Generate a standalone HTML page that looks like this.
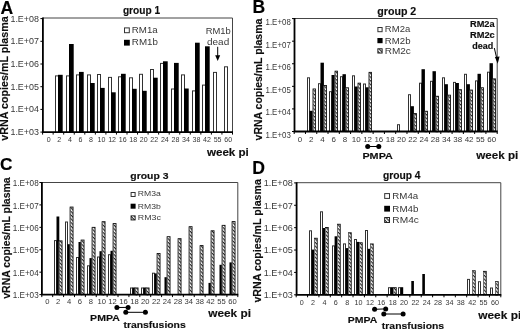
<!DOCTYPE html>
<html><head><meta charset="utf-8"><title>vRNA charts</title>
<style>
html,body{margin:0;padding:0;background:#fff;}
body{width:520px;height:331px;overflow:hidden;}
svg{display:block;font-family:"Liberation Sans", sans-serif;will-change:transform;}
</style></head><body>
<svg width="520" height="331" viewBox="0 0 520 331">
<rect width="520" height="331" fill="#fff"/>
<g filter="url(#soft)">
<rect width="520" height="331" fill="#fff"/>
<defs><filter id="soft" x="0" y="0" width="1" height="1"><feGaussianBlur stdDeviation="0.35"/></filter><pattern id="hatch" patternUnits="userSpaceOnUse" width="2.6" height="2.6" patternTransform="rotate(-45)"><rect width="2.6" height="2.6" fill="#262626"/><rect width="1.45" height="2.6" fill="#fff"/></pattern></defs>
<rect x="55.00" y="75.40" width="4.00" height="56.70" fill="#333"/>
<rect x="56.00" y="76.40" width="2.00" height="56.70" fill="#fff"/>
<rect x="66.00" y="75.40" width="4.00" height="56.70" fill="#333"/>
<rect x="67.00" y="76.40" width="2.00" height="56.70" fill="#fff"/>
<rect x="76.00" y="74.40" width="4.00" height="57.70" fill="#333"/>
<rect x="77.00" y="75.40" width="2.00" height="57.70" fill="#fff"/>
<rect x="87.00" y="74.40" width="4.00" height="57.70" fill="#333"/>
<rect x="88.00" y="75.40" width="2.00" height="57.70" fill="#fff"/>
<rect x="97.00" y="74.00" width="4.00" height="58.10" fill="#333"/>
<rect x="98.00" y="75.00" width="2.00" height="58.10" fill="#fff"/>
<rect x="108.00" y="76.90" width="4.00" height="55.20" fill="#333"/>
<rect x="109.00" y="77.90" width="2.00" height="55.20" fill="#fff"/>
<rect x="118.00" y="76.30" width="4.00" height="55.80" fill="#333"/>
<rect x="119.00" y="77.30" width="2.00" height="55.80" fill="#fff"/>
<rect x="129.00" y="77.30" width="4.00" height="54.80" fill="#333"/>
<rect x="130.00" y="78.30" width="2.00" height="54.80" fill="#fff"/>
<rect x="139.00" y="73.80" width="4.00" height="58.30" fill="#333"/>
<rect x="140.00" y="74.80" width="2.00" height="58.30" fill="#fff"/>
<rect x="150.00" y="69.00" width="4.00" height="63.10" fill="#333"/>
<rect x="151.00" y="70.00" width="2.00" height="63.10" fill="#fff"/>
<rect x="160.00" y="62.90" width="4.00" height="69.20" fill="#333"/>
<rect x="161.00" y="63.90" width="2.00" height="69.20" fill="#fff"/>
<rect x="171.00" y="88.50" width="4.00" height="43.60" fill="#333"/>
<rect x="172.00" y="89.50" width="2.00" height="43.60" fill="#fff"/>
<rect x="181.00" y="74.40" width="4.00" height="57.70" fill="#333"/>
<rect x="182.00" y="75.40" width="2.00" height="57.70" fill="#fff"/>
<rect x="192.00" y="90.40" width="4.00" height="41.70" fill="#333"/>
<rect x="193.00" y="91.40" width="2.00" height="41.70" fill="#fff"/>
<rect x="202.00" y="84.60" width="4.00" height="47.50" fill="#333"/>
<rect x="203.00" y="85.60" width="2.00" height="47.50" fill="#fff"/>
<rect x="213.00" y="71.90" width="4.00" height="60.20" fill="#333"/>
<rect x="214.00" y="72.90" width="2.00" height="60.20" fill="#fff"/>
<rect x="224.00" y="66.30" width="4.00" height="65.80" fill="#333"/>
<rect x="225.00" y="67.30" width="2.00" height="65.80" fill="#fff"/>
<rect x="58.00" y="74.80" width="4.70" height="57.30" fill="#000"/>
<rect x="69.00" y="44.00" width="4.70" height="88.10" fill="#000"/>
<rect x="79.00" y="71.90" width="4.70" height="60.20" fill="#000"/>
<rect x="90.00" y="83.00" width="4.70" height="49.10" fill="#000"/>
<rect x="100.00" y="87.90" width="4.70" height="44.20" fill="#000"/>
<rect x="111.00" y="92.30" width="4.70" height="39.80" fill="#000"/>
<rect x="121.00" y="73.80" width="4.70" height="58.30" fill="#000"/>
<rect x="132.00" y="88.80" width="4.70" height="43.30" fill="#000"/>
<rect x="142.00" y="90.80" width="4.70" height="41.30" fill="#000"/>
<rect x="153.00" y="77.70" width="4.70" height="54.40" fill="#000"/>
<rect x="163.00" y="61.30" width="4.70" height="70.80" fill="#000"/>
<rect x="174.00" y="62.90" width="4.70" height="69.20" fill="#000"/>
<rect x="184.00" y="88.50" width="4.70" height="43.60" fill="#000"/>
<rect x="195.00" y="42.70" width="4.70" height="89.40" fill="#000"/>
<rect x="205.00" y="46.30" width="4.70" height="85.80" fill="#000"/>
<path d="M42.90 18.00 H232.50 V132.10" fill="none" stroke="#444" stroke-width="1"/>
<path d="M42.90 17.50 V132.10 H233.00" fill="none" stroke="#000" stroke-width="1.8"/>
<line x1="40.40" y1="18.60" x2="42.90" y2="18.60" stroke="#000" stroke-width="1"/>
<line x1="40.40" y1="41.30" x2="42.90" y2="41.30" stroke="#000" stroke-width="1"/>
<line x1="40.40" y1="64.00" x2="42.90" y2="64.00" stroke="#000" stroke-width="1"/>
<line x1="40.40" y1="86.70" x2="42.90" y2="86.70" stroke="#000" stroke-width="1"/>
<line x1="40.40" y1="109.40" x2="42.90" y2="109.40" stroke="#000" stroke-width="1"/>
<line x1="40.40" y1="132.10" x2="42.90" y2="132.10" stroke="#000" stroke-width="1"/>
<line x1="42.60" y1="132.10" x2="42.60" y2="134.60" stroke="#000" stroke-width="1"/>
<line x1="53.15" y1="132.10" x2="53.15" y2="134.60" stroke="#000" stroke-width="1"/>
<line x1="63.70" y1="132.10" x2="63.70" y2="134.60" stroke="#000" stroke-width="1"/>
<line x1="74.25" y1="132.10" x2="74.25" y2="134.60" stroke="#000" stroke-width="1"/>
<line x1="84.80" y1="132.10" x2="84.80" y2="134.60" stroke="#000" stroke-width="1"/>
<line x1="95.35" y1="132.10" x2="95.35" y2="134.60" stroke="#000" stroke-width="1"/>
<line x1="105.90" y1="132.10" x2="105.90" y2="134.60" stroke="#000" stroke-width="1"/>
<line x1="116.45" y1="132.10" x2="116.45" y2="134.60" stroke="#000" stroke-width="1"/>
<line x1="127.00" y1="132.10" x2="127.00" y2="134.60" stroke="#000" stroke-width="1"/>
<line x1="137.55" y1="132.10" x2="137.55" y2="134.60" stroke="#000" stroke-width="1"/>
<line x1="148.10" y1="132.10" x2="148.10" y2="134.60" stroke="#000" stroke-width="1"/>
<line x1="158.65" y1="132.10" x2="158.65" y2="134.60" stroke="#000" stroke-width="1"/>
<line x1="169.20" y1="132.10" x2="169.20" y2="134.60" stroke="#000" stroke-width="1"/>
<line x1="179.75" y1="132.10" x2="179.75" y2="134.60" stroke="#000" stroke-width="1"/>
<line x1="190.30" y1="132.10" x2="190.30" y2="134.60" stroke="#000" stroke-width="1"/>
<line x1="200.85" y1="132.10" x2="200.85" y2="134.60" stroke="#000" stroke-width="1"/>
<line x1="211.40" y1="132.10" x2="211.40" y2="134.60" stroke="#000" stroke-width="1"/>
<line x1="221.95" y1="132.10" x2="221.95" y2="134.60" stroke="#000" stroke-width="1"/>
<line x1="232.50" y1="132.10" x2="232.50" y2="134.60" stroke="#000" stroke-width="1"/>
<text id="A_y0" x="38.92" y="21.68" font-size="8.30" font-weight="normal" text-anchor="end" textLength="28.47" lengthAdjust="spacingAndGlyphs" fill="#383838" stroke="#383838" stroke-width="0.0">1.E+08</text>
<text id="A_y1" x="38.92" y="44.38" font-size="8.30" font-weight="normal" text-anchor="end" textLength="28.47" lengthAdjust="spacingAndGlyphs" fill="#383838" stroke="#383838" stroke-width="0.0">1.E+07</text>
<text id="A_y2" x="38.92" y="67.08" font-size="8.30" font-weight="normal" text-anchor="end" textLength="28.47" lengthAdjust="spacingAndGlyphs" fill="#383838" stroke="#383838" stroke-width="0.0">1.E+06</text>
<text id="A_y3" x="38.92" y="89.78" font-size="8.30" font-weight="normal" text-anchor="end" textLength="28.47" lengthAdjust="spacingAndGlyphs" fill="#383838" stroke="#383838" stroke-width="0.0">1.E+05</text>
<text id="A_y4" x="38.92" y="112.48" font-size="8.30" font-weight="normal" text-anchor="end" textLength="28.47" lengthAdjust="spacingAndGlyphs" fill="#383838" stroke="#383838" stroke-width="0.0">1.E+04</text>
<text id="A_y5" x="38.92" y="135.18" font-size="8.30" font-weight="normal" text-anchor="end" textLength="28.47" lengthAdjust="spacingAndGlyphs" fill="#383838" stroke="#383838" stroke-width="0.0">1.E+03</text>
<text id="A_x0" x="48.79" y="141.72" font-size="7.30" font-weight="normal" text-anchor="middle" textLength="3.94" lengthAdjust="spacingAndGlyphs" fill="#383838" stroke="#383838" stroke-width="0.0">0</text>
<text id="A_x1" x="59.34" y="141.72" font-size="7.30" font-weight="normal" text-anchor="middle" textLength="3.94" lengthAdjust="spacingAndGlyphs" fill="#383838" stroke="#383838" stroke-width="0.0">2</text>
<text id="A_x2" x="69.89" y="141.72" font-size="7.30" font-weight="normal" text-anchor="middle" textLength="3.94" lengthAdjust="spacingAndGlyphs" fill="#383838" stroke="#383838" stroke-width="0.0">4</text>
<text id="A_x3" x="80.44" y="141.72" font-size="7.30" font-weight="normal" text-anchor="middle" textLength="3.94" lengthAdjust="spacingAndGlyphs" fill="#383838" stroke="#383838" stroke-width="0.0">6</text>
<text id="A_x4" x="90.99" y="141.72" font-size="7.30" font-weight="normal" text-anchor="middle" textLength="3.94" lengthAdjust="spacingAndGlyphs" fill="#383838" stroke="#383838" stroke-width="0.0">8</text>
<text id="A_x5" x="101.54" y="141.72" font-size="7.30" font-weight="normal" text-anchor="middle" textLength="7.87" lengthAdjust="spacingAndGlyphs" fill="#383838" stroke="#383838" stroke-width="0.0">10</text>
<text id="A_x6" x="112.09" y="141.72" font-size="7.30" font-weight="normal" text-anchor="middle" textLength="7.87" lengthAdjust="spacingAndGlyphs" fill="#383838" stroke="#383838" stroke-width="0.0">12</text>
<text id="A_x7" x="122.64" y="141.72" font-size="7.30" font-weight="normal" text-anchor="middle" textLength="7.87" lengthAdjust="spacingAndGlyphs" fill="#383838" stroke="#383838" stroke-width="0.0">16</text>
<text id="A_x8" x="133.19" y="141.72" font-size="7.30" font-weight="normal" text-anchor="middle" textLength="7.87" lengthAdjust="spacingAndGlyphs" fill="#383838" stroke="#383838" stroke-width="0.0">18</text>
<text id="A_x9" x="143.74" y="141.72" font-size="7.30" font-weight="normal" text-anchor="middle" textLength="7.87" lengthAdjust="spacingAndGlyphs" fill="#383838" stroke="#383838" stroke-width="0.0">20</text>
<text id="A_x10" x="154.29" y="141.72" font-size="7.30" font-weight="normal" text-anchor="middle" textLength="7.87" lengthAdjust="spacingAndGlyphs" fill="#383838" stroke="#383838" stroke-width="0.0">22</text>
<text id="A_x11" x="164.84" y="141.72" font-size="7.30" font-weight="normal" text-anchor="middle" textLength="7.87" lengthAdjust="spacingAndGlyphs" fill="#383838" stroke="#383838" stroke-width="0.0">24</text>
<text id="A_x12" x="175.39" y="141.72" font-size="7.30" font-weight="normal" text-anchor="middle" textLength="7.87" lengthAdjust="spacingAndGlyphs" fill="#383838" stroke="#383838" stroke-width="0.0">28</text>
<text id="A_x13" x="185.94" y="141.72" font-size="7.30" font-weight="normal" text-anchor="middle" textLength="7.87" lengthAdjust="spacingAndGlyphs" fill="#383838" stroke="#383838" stroke-width="0.0">34</text>
<text id="A_x14" x="196.49" y="141.72" font-size="7.30" font-weight="normal" text-anchor="middle" textLength="7.87" lengthAdjust="spacingAndGlyphs" fill="#383838" stroke="#383838" stroke-width="0.0">38</text>
<text id="A_x15" x="207.04" y="141.72" font-size="7.30" font-weight="normal" text-anchor="middle" textLength="7.87" lengthAdjust="spacingAndGlyphs" fill="#383838" stroke="#383838" stroke-width="0.0">42</text>
<text id="A_x16" x="217.59" y="141.72" font-size="7.30" font-weight="normal" text-anchor="middle" textLength="7.87" lengthAdjust="spacingAndGlyphs" fill="#383838" stroke="#383838" stroke-width="0.0">55</text>
<text id="A_x17" x="228.14" y="141.72" font-size="7.30" font-weight="normal" text-anchor="middle" textLength="7.87" lengthAdjust="spacingAndGlyphs" fill="#383838" stroke="#383838" stroke-width="0.0">60</text>
<rect x="307.00" y="77.30" width="3.00" height="54.20" fill="#333"/>
<rect x="308.00" y="78.30" width="1.00" height="54.20" fill="#fff"/>
<rect x="318.00" y="83.20" width="3.00" height="48.30" fill="#333"/>
<rect x="319.00" y="84.20" width="1.00" height="48.30" fill="#fff"/>
<rect x="329.00" y="91.20" width="3.00" height="40.30" fill="#333"/>
<rect x="330.00" y="92.20" width="1.00" height="40.30" fill="#fff"/>
<rect x="340.00" y="76.20" width="3.00" height="55.30" fill="#333"/>
<rect x="341.00" y="77.20" width="1.00" height="55.30" fill="#fff"/>
<rect x="352.00" y="75.30" width="3.00" height="56.20" fill="#333"/>
<rect x="353.00" y="76.30" width="1.00" height="56.20" fill="#fff"/>
<rect x="363.00" y="83.50" width="3.00" height="48.00" fill="#333"/>
<rect x="364.00" y="84.50" width="1.00" height="48.00" fill="#fff"/>
<rect x="397.00" y="124.20" width="3.00" height="7.30" fill="#333"/>
<rect x="398.00" y="125.20" width="1.00" height="7.30" fill="#fff"/>
<rect x="408.00" y="94.20" width="3.00" height="37.30" fill="#333"/>
<rect x="409.00" y="95.20" width="1.00" height="37.30" fill="#fff"/>
<rect x="419.00" y="82.70" width="3.00" height="48.80" fill="#333"/>
<rect x="420.00" y="83.70" width="1.00" height="48.80" fill="#fff"/>
<rect x="430.00" y="80.80" width="3.00" height="50.70" fill="#333"/>
<rect x="431.00" y="81.80" width="1.00" height="50.70" fill="#fff"/>
<rect x="442.00" y="77.30" width="3.00" height="54.20" fill="#333"/>
<rect x="443.00" y="78.30" width="1.00" height="54.20" fill="#fff"/>
<rect x="453.00" y="81.90" width="3.00" height="49.60" fill="#333"/>
<rect x="454.00" y="82.90" width="1.00" height="49.60" fill="#fff"/>
<rect x="464.00" y="73.80" width="3.00" height="57.70" fill="#333"/>
<rect x="465.00" y="74.80" width="1.00" height="57.70" fill="#fff"/>
<rect x="475.00" y="80.40" width="3.00" height="51.10" fill="#333"/>
<rect x="476.00" y="81.40" width="1.00" height="51.10" fill="#fff"/>
<rect x="487.00" y="71.70" width="3.00" height="59.80" fill="#333"/>
<rect x="488.00" y="72.70" width="1.00" height="59.80" fill="#fff"/>
<rect x="309.50" y="110.80" width="3.40" height="20.70" fill="#000"/>
<rect x="320.50" y="62.70" width="3.40" height="68.80" fill="#000"/>
<rect x="331.50" y="75.00" width="3.40" height="56.50" fill="#000"/>
<rect x="342.50" y="74.20" width="3.40" height="57.30" fill="#000"/>
<rect x="354.50" y="86.50" width="3.40" height="45.00" fill="#000"/>
<rect x="365.50" y="87.30" width="3.40" height="44.20" fill="#000"/>
<rect x="410.50" y="106.20" width="3.40" height="25.30" fill="#000"/>
<rect x="421.50" y="69.20" width="3.40" height="62.30" fill="#000"/>
<rect x="432.50" y="71.20" width="3.40" height="60.30" fill="#000"/>
<rect x="444.50" y="84.20" width="3.40" height="47.30" fill="#000"/>
<rect x="455.50" y="83.00" width="3.40" height="48.50" fill="#000"/>
<rect x="466.50" y="84.20" width="3.40" height="47.30" fill="#000"/>
<rect x="477.50" y="73.80" width="3.40" height="57.70" fill="#000"/>
<rect x="489.50" y="63.20" width="3.40" height="68.30" fill="#000"/>
<rect x="312.60" y="88.50" width="3.30" height="43.00" fill="#111"/>
<rect x="313.40" y="89.40" width="1.60" height="43.00" fill="url(#hatch)"/>
<rect x="312.60" y="89.40" width="0.8" height="43.00" fill="#808080"/>
<rect x="323.60" y="85.00" width="3.30" height="46.50" fill="#111"/>
<rect x="324.40" y="85.90" width="1.60" height="46.50" fill="url(#hatch)"/>
<rect x="323.60" y="85.90" width="0.8" height="46.50" fill="#808080"/>
<rect x="334.60" y="70.70" width="3.30" height="60.80" fill="#111"/>
<rect x="335.40" y="71.60" width="1.60" height="60.80" fill="url(#hatch)"/>
<rect x="334.60" y="71.60" width="0.8" height="60.80" fill="#808080"/>
<rect x="345.60" y="87.30" width="3.30" height="44.20" fill="#111"/>
<rect x="346.40" y="88.20" width="1.60" height="44.20" fill="url(#hatch)"/>
<rect x="345.60" y="88.20" width="0.8" height="44.20" fill="#808080"/>
<rect x="357.60" y="82.70" width="3.30" height="48.80" fill="#111"/>
<rect x="358.40" y="83.60" width="1.60" height="48.80" fill="url(#hatch)"/>
<rect x="357.60" y="83.60" width="0.8" height="48.80" fill="#808080"/>
<rect x="368.60" y="71.90" width="3.30" height="59.60" fill="#111"/>
<rect x="369.40" y="72.80" width="1.60" height="59.60" fill="url(#hatch)"/>
<rect x="368.60" y="72.80" width="0.8" height="59.60" fill="#808080"/>
<rect x="413.60" y="113.10" width="3.30" height="18.40" fill="#111"/>
<rect x="414.40" y="114.00" width="1.60" height="18.40" fill="url(#hatch)"/>
<rect x="413.60" y="114.00" width="0.8" height="18.40" fill="#808080"/>
<rect x="424.60" y="110.80" width="3.30" height="20.70" fill="#111"/>
<rect x="425.40" y="111.70" width="1.60" height="20.70" fill="url(#hatch)"/>
<rect x="424.60" y="111.70" width="0.8" height="20.70" fill="#808080"/>
<rect x="435.60" y="95.80" width="3.30" height="35.70" fill="#111"/>
<rect x="436.40" y="96.70" width="1.60" height="35.70" fill="url(#hatch)"/>
<rect x="435.60" y="96.70" width="0.8" height="35.70" fill="#808080"/>
<rect x="447.60" y="94.70" width="3.30" height="36.80" fill="#111"/>
<rect x="448.40" y="95.60" width="1.60" height="36.80" fill="url(#hatch)"/>
<rect x="447.60" y="95.60" width="0.8" height="36.80" fill="#808080"/>
<rect x="458.60" y="89.20" width="3.30" height="42.30" fill="#111"/>
<rect x="459.40" y="90.10" width="1.60" height="42.30" fill="url(#hatch)"/>
<rect x="458.60" y="90.10" width="0.8" height="42.30" fill="#808080"/>
<rect x="469.60" y="89.60" width="3.30" height="41.90" fill="#111"/>
<rect x="470.40" y="90.50" width="1.60" height="41.90" fill="url(#hatch)"/>
<rect x="469.60" y="90.50" width="0.8" height="41.90" fill="#808080"/>
<rect x="480.60" y="87.30" width="3.30" height="44.20" fill="#111"/>
<rect x="481.40" y="88.20" width="1.60" height="44.20" fill="url(#hatch)"/>
<rect x="480.60" y="88.20" width="0.8" height="44.20" fill="#808080"/>
<rect x="492.60" y="78.40" width="3.30" height="53.10" fill="#111"/>
<rect x="493.40" y="79.30" width="1.60" height="53.10" fill="url(#hatch)"/>
<rect x="492.60" y="79.30" width="0.8" height="53.10" fill="#808080"/>
<path d="M294.50 18.50 H497.20 V131.50" fill="none" stroke="#444" stroke-width="1"/>
<path d="M294.50 18.00 V131.50 H497.70" fill="none" stroke="#000" stroke-width="1.8"/>
<line x1="292.00" y1="18.60" x2="294.50" y2="18.60" stroke="#000" stroke-width="1"/>
<line x1="292.00" y1="41.18" x2="294.50" y2="41.18" stroke="#000" stroke-width="1"/>
<line x1="292.00" y1="63.76" x2="294.50" y2="63.76" stroke="#000" stroke-width="1"/>
<line x1="292.00" y1="86.34" x2="294.50" y2="86.34" stroke="#000" stroke-width="1"/>
<line x1="292.00" y1="108.92" x2="294.50" y2="108.92" stroke="#000" stroke-width="1"/>
<line x1="292.00" y1="131.50" x2="294.50" y2="131.50" stroke="#000" stroke-width="1"/>
<line x1="294.20" y1="131.50" x2="294.20" y2="134.00" stroke="#000" stroke-width="1"/>
<line x1="305.48" y1="131.50" x2="305.48" y2="134.00" stroke="#000" stroke-width="1"/>
<line x1="316.76" y1="131.50" x2="316.76" y2="134.00" stroke="#000" stroke-width="1"/>
<line x1="328.03" y1="131.50" x2="328.03" y2="134.00" stroke="#000" stroke-width="1"/>
<line x1="339.31" y1="131.50" x2="339.31" y2="134.00" stroke="#000" stroke-width="1"/>
<line x1="350.59" y1="131.50" x2="350.59" y2="134.00" stroke="#000" stroke-width="1"/>
<line x1="361.87" y1="131.50" x2="361.87" y2="134.00" stroke="#000" stroke-width="1"/>
<line x1="373.14" y1="131.50" x2="373.14" y2="134.00" stroke="#000" stroke-width="1"/>
<line x1="384.42" y1="131.50" x2="384.42" y2="134.00" stroke="#000" stroke-width="1"/>
<line x1="395.70" y1="131.50" x2="395.70" y2="134.00" stroke="#000" stroke-width="1"/>
<line x1="406.98" y1="131.50" x2="406.98" y2="134.00" stroke="#000" stroke-width="1"/>
<line x1="418.26" y1="131.50" x2="418.26" y2="134.00" stroke="#000" stroke-width="1"/>
<line x1="429.53" y1="131.50" x2="429.53" y2="134.00" stroke="#000" stroke-width="1"/>
<line x1="440.81" y1="131.50" x2="440.81" y2="134.00" stroke="#000" stroke-width="1"/>
<line x1="452.09" y1="131.50" x2="452.09" y2="134.00" stroke="#000" stroke-width="1"/>
<line x1="463.37" y1="131.50" x2="463.37" y2="134.00" stroke="#000" stroke-width="1"/>
<line x1="474.64" y1="131.50" x2="474.64" y2="134.00" stroke="#000" stroke-width="1"/>
<line x1="485.92" y1="131.50" x2="485.92" y2="134.00" stroke="#000" stroke-width="1"/>
<line x1="497.20" y1="131.50" x2="497.20" y2="134.00" stroke="#000" stroke-width="1"/>
<text id="B_y0" x="290.80" y="25.03" font-size="8.30" font-weight="normal" text-anchor="end" textLength="25.27" lengthAdjust="spacingAndGlyphs" fill="#383838" stroke="#383838" stroke-width="0.0">1.E+08</text>
<text id="B_y1" x="290.80" y="47.61" font-size="8.30" font-weight="normal" text-anchor="end" textLength="25.27" lengthAdjust="spacingAndGlyphs" fill="#383838" stroke="#383838" stroke-width="0.0">1.E+07</text>
<text id="B_y2" x="290.80" y="70.19" font-size="8.30" font-weight="normal" text-anchor="end" textLength="25.27" lengthAdjust="spacingAndGlyphs" fill="#383838" stroke="#383838" stroke-width="0.0">1.E+06</text>
<text id="B_y3" x="290.80" y="92.77" font-size="8.30" font-weight="normal" text-anchor="end" textLength="25.27" lengthAdjust="spacingAndGlyphs" fill="#383838" stroke="#383838" stroke-width="0.0">1.E+05</text>
<text id="B_y4" x="290.80" y="115.35" font-size="8.30" font-weight="normal" text-anchor="end" textLength="25.27" lengthAdjust="spacingAndGlyphs" fill="#383838" stroke="#383838" stroke-width="0.0">1.E+04</text>
<text id="B_y5" x="290.80" y="137.93" font-size="8.30" font-weight="normal" text-anchor="end" textLength="25.27" lengthAdjust="spacingAndGlyphs" fill="#383838" stroke="#383838" stroke-width="0.0">1.E+03</text>
<text id="B_x0" x="299.93" y="142.44" font-size="7.30" font-weight="normal" text-anchor="middle" textLength="4.44" lengthAdjust="spacingAndGlyphs" fill="#383838" stroke="#383838" stroke-width="0.0">0</text>
<text id="B_x1" x="311.20" y="142.44" font-size="7.30" font-weight="normal" text-anchor="middle" textLength="4.44" lengthAdjust="spacingAndGlyphs" fill="#383838" stroke="#383838" stroke-width="0.0">2</text>
<text id="B_x2" x="322.48" y="142.44" font-size="7.30" font-weight="normal" text-anchor="middle" textLength="4.44" lengthAdjust="spacingAndGlyphs" fill="#383838" stroke="#383838" stroke-width="0.0">4</text>
<text id="B_x3" x="333.76" y="142.44" font-size="7.30" font-weight="normal" text-anchor="middle" textLength="4.44" lengthAdjust="spacingAndGlyphs" fill="#383838" stroke="#383838" stroke-width="0.0">6</text>
<text id="B_x4" x="345.04" y="142.44" font-size="7.30" font-weight="normal" text-anchor="middle" textLength="4.44" lengthAdjust="spacingAndGlyphs" fill="#383838" stroke="#383838" stroke-width="0.0">8</text>
<text id="B_x5" x="356.31" y="142.44" font-size="7.30" font-weight="normal" text-anchor="middle" textLength="8.89" lengthAdjust="spacingAndGlyphs" fill="#383838" stroke="#383838" stroke-width="0.0">10</text>
<text id="B_x6" x="367.59" y="142.44" font-size="7.30" font-weight="normal" text-anchor="middle" textLength="8.89" lengthAdjust="spacingAndGlyphs" fill="#383838" stroke="#383838" stroke-width="0.0">12</text>
<text id="B_x7" x="378.87" y="142.44" font-size="7.30" font-weight="normal" text-anchor="middle" textLength="8.89" lengthAdjust="spacingAndGlyphs" fill="#383838" stroke="#383838" stroke-width="0.0">16</text>
<text id="B_x8" x="390.15" y="142.44" font-size="7.30" font-weight="normal" text-anchor="middle" textLength="8.89" lengthAdjust="spacingAndGlyphs" fill="#383838" stroke="#383838" stroke-width="0.0">18</text>
<text id="B_x9" x="401.43" y="142.44" font-size="7.30" font-weight="normal" text-anchor="middle" textLength="8.89" lengthAdjust="spacingAndGlyphs" fill="#383838" stroke="#383838" stroke-width="0.0">20</text>
<text id="B_x10" x="412.70" y="142.44" font-size="7.30" font-weight="normal" text-anchor="middle" textLength="8.89" lengthAdjust="spacingAndGlyphs" fill="#383838" stroke="#383838" stroke-width="0.0">22</text>
<text id="B_x11" x="423.98" y="142.44" font-size="7.30" font-weight="normal" text-anchor="middle" textLength="8.89" lengthAdjust="spacingAndGlyphs" fill="#383838" stroke="#383838" stroke-width="0.0">24</text>
<text id="B_x12" x="435.26" y="142.44" font-size="7.30" font-weight="normal" text-anchor="middle" textLength="8.89" lengthAdjust="spacingAndGlyphs" fill="#383838" stroke="#383838" stroke-width="0.0">28</text>
<text id="B_x13" x="446.54" y="142.44" font-size="7.30" font-weight="normal" text-anchor="middle" textLength="8.89" lengthAdjust="spacingAndGlyphs" fill="#383838" stroke="#383838" stroke-width="0.0">34</text>
<text id="B_x14" x="457.81" y="142.44" font-size="7.30" font-weight="normal" text-anchor="middle" textLength="8.89" lengthAdjust="spacingAndGlyphs" fill="#383838" stroke="#383838" stroke-width="0.0">38</text>
<text id="B_x15" x="469.09" y="142.44" font-size="7.30" font-weight="normal" text-anchor="middle" textLength="8.89" lengthAdjust="spacingAndGlyphs" fill="#383838" stroke="#383838" stroke-width="0.0">42</text>
<text id="B_x16" x="480.37" y="142.44" font-size="7.30" font-weight="normal" text-anchor="middle" textLength="8.89" lengthAdjust="spacingAndGlyphs" fill="#383838" stroke="#383838" stroke-width="0.0">55</text>
<text id="B_x17" x="491.65" y="142.44" font-size="7.30" font-weight="normal" text-anchor="middle" textLength="8.89" lengthAdjust="spacingAndGlyphs" fill="#383838" stroke="#383838" stroke-width="0.0">60</text>
<rect x="54.00" y="240.10" width="3.00" height="54.50" fill="#333"/>
<rect x="55.00" y="241.10" width="1.00" height="54.50" fill="#fff"/>
<rect x="65.00" y="221.50" width="3.00" height="73.10" fill="#333"/>
<rect x="66.00" y="222.50" width="1.00" height="73.10" fill="#fff"/>
<rect x="76.00" y="257.00" width="3.00" height="37.60" fill="#333"/>
<rect x="77.00" y="258.00" width="1.00" height="37.60" fill="#fff"/>
<rect x="87.00" y="265.30" width="3.00" height="29.30" fill="#333"/>
<rect x="88.00" y="266.30" width="1.00" height="29.30" fill="#fff"/>
<rect x="97.00" y="256.50" width="3.00" height="38.10" fill="#333"/>
<rect x="98.00" y="257.50" width="1.00" height="38.10" fill="#fff"/>
<rect x="108.00" y="254.20" width="3.00" height="40.40" fill="#333"/>
<rect x="109.00" y="255.20" width="1.00" height="40.40" fill="#fff"/>
<rect x="130.00" y="287.50" width="3.00" height="7.10" fill="#333"/>
<rect x="131.00" y="288.50" width="1.00" height="7.10" fill="#fff"/>
<rect x="141.00" y="287.50" width="3.00" height="7.10" fill="#333"/>
<rect x="142.00" y="288.50" width="1.00" height="7.10" fill="#fff"/>
<rect x="152.00" y="272.70" width="3.00" height="21.90" fill="#333"/>
<rect x="153.00" y="273.70" width="1.00" height="21.90" fill="#fff"/>
<rect x="56.50" y="216.50" width="2.80" height="78.10" fill="#000"/>
<rect x="67.50" y="244.20" width="2.80" height="50.40" fill="#000"/>
<rect x="78.50" y="242.00" width="2.80" height="52.60" fill="#000"/>
<rect x="89.50" y="258.10" width="2.80" height="36.50" fill="#000"/>
<rect x="99.50" y="251.20" width="2.80" height="43.40" fill="#000"/>
<rect x="110.50" y="250.80" width="2.80" height="43.80" fill="#000"/>
<rect x="132.50" y="287.50" width="2.80" height="7.10" fill="#000"/>
<rect x="143.50" y="287.50" width="2.80" height="7.10" fill="#000"/>
<rect x="154.50" y="273.40" width="2.80" height="21.20" fill="#000"/>
<rect x="164.50" y="277.20" width="2.80" height="17.40" fill="#000"/>
<rect x="208.50" y="282.90" width="2.80" height="11.70" fill="#000"/>
<rect x="219.50" y="264.80" width="2.80" height="29.80" fill="#000"/>
<rect x="229.50" y="262.40" width="2.80" height="32.20" fill="#000"/>
<rect x="58.70" y="240.40" width="3.80" height="54.20" fill="#111"/>
<rect x="59.50" y="241.30" width="2.10" height="54.20" fill="url(#hatch)"/>
<rect x="58.70" y="241.30" width="0.8" height="54.20" fill="#808080"/>
<rect x="69.70" y="206.60" width="3.80" height="88.00" fill="#111"/>
<rect x="70.50" y="207.50" width="2.10" height="88.00" fill="url(#hatch)"/>
<rect x="69.70" y="207.50" width="0.8" height="88.00" fill="#808080"/>
<rect x="80.70" y="239.60" width="3.80" height="55.00" fill="#111"/>
<rect x="81.50" y="240.50" width="2.10" height="55.00" fill="url(#hatch)"/>
<rect x="80.70" y="240.50" width="0.8" height="55.00" fill="#808080"/>
<rect x="91.70" y="226.90" width="3.80" height="67.70" fill="#111"/>
<rect x="92.50" y="227.80" width="2.10" height="67.70" fill="url(#hatch)"/>
<rect x="91.70" y="227.80" width="0.8" height="67.70" fill="#808080"/>
<rect x="101.70" y="221.20" width="3.80" height="73.40" fill="#111"/>
<rect x="102.50" y="222.10" width="2.10" height="73.40" fill="url(#hatch)"/>
<rect x="101.70" y="222.10" width="0.8" height="73.40" fill="#808080"/>
<rect x="112.70" y="223.10" width="3.80" height="71.50" fill="#111"/>
<rect x="113.50" y="224.00" width="2.10" height="71.50" fill="url(#hatch)"/>
<rect x="112.70" y="224.00" width="0.8" height="71.50" fill="#808080"/>
<rect x="134.70" y="287.50" width="3.80" height="7.10" fill="#111"/>
<rect x="135.50" y="288.40" width="2.10" height="7.10" fill="url(#hatch)"/>
<rect x="134.70" y="288.40" width="0.8" height="7.10" fill="#808080"/>
<rect x="145.70" y="287.50" width="3.80" height="7.10" fill="#111"/>
<rect x="146.50" y="288.40" width="2.10" height="7.10" fill="url(#hatch)"/>
<rect x="145.70" y="288.40" width="0.8" height="7.10" fill="#808080"/>
<rect x="156.70" y="253.00" width="3.80" height="41.60" fill="#111"/>
<rect x="157.50" y="253.90" width="2.10" height="41.60" fill="url(#hatch)"/>
<rect x="156.70" y="253.90" width="0.8" height="41.60" fill="#808080"/>
<rect x="166.70" y="236.20" width="3.80" height="58.40" fill="#111"/>
<rect x="167.50" y="237.10" width="2.10" height="58.40" fill="url(#hatch)"/>
<rect x="166.70" y="237.10" width="0.8" height="58.40" fill="#808080"/>
<rect x="177.70" y="238.20" width="3.80" height="56.40" fill="#111"/>
<rect x="178.50" y="239.10" width="2.10" height="56.40" fill="url(#hatch)"/>
<rect x="177.70" y="239.10" width="0.8" height="56.40" fill="#808080"/>
<rect x="188.70" y="226.20" width="3.80" height="68.40" fill="#111"/>
<rect x="189.50" y="227.10" width="2.10" height="68.40" fill="url(#hatch)"/>
<rect x="188.70" y="227.10" width="0.8" height="68.40" fill="#808080"/>
<rect x="199.70" y="245.10" width="3.80" height="49.50" fill="#111"/>
<rect x="200.50" y="246.00" width="2.10" height="49.50" fill="url(#hatch)"/>
<rect x="199.70" y="246.00" width="0.8" height="49.50" fill="#808080"/>
<rect x="210.70" y="230.30" width="3.80" height="64.30" fill="#111"/>
<rect x="211.50" y="231.20" width="2.10" height="64.30" fill="url(#hatch)"/>
<rect x="210.70" y="231.20" width="0.8" height="64.30" fill="#808080"/>
<rect x="221.70" y="224.90" width="3.80" height="69.70" fill="#111"/>
<rect x="222.50" y="225.80" width="2.10" height="69.70" fill="url(#hatch)"/>
<rect x="221.70" y="225.80" width="0.8" height="69.70" fill="#808080"/>
<rect x="231.70" y="221.10" width="3.80" height="73.50" fill="#111"/>
<rect x="232.50" y="222.00" width="2.10" height="73.50" fill="url(#hatch)"/>
<rect x="231.70" y="222.00" width="0.8" height="73.50" fill="#808080"/>
<path d="M41.90 182.50 H237.80 V294.60" fill="none" stroke="#444" stroke-width="1"/>
<path d="M41.90 182.00 V294.60 H238.30" fill="none" stroke="#000" stroke-width="1.8"/>
<line x1="39.40" y1="182.50" x2="41.90" y2="182.50" stroke="#000" stroke-width="1"/>
<line x1="39.40" y1="204.92" x2="41.90" y2="204.92" stroke="#000" stroke-width="1"/>
<line x1="39.40" y1="227.34" x2="41.90" y2="227.34" stroke="#000" stroke-width="1"/>
<line x1="39.40" y1="249.76" x2="41.90" y2="249.76" stroke="#000" stroke-width="1"/>
<line x1="39.40" y1="272.18" x2="41.90" y2="272.18" stroke="#000" stroke-width="1"/>
<line x1="39.40" y1="294.60" x2="41.90" y2="294.60" stroke="#000" stroke-width="1"/>
<line x1="41.80" y1="294.60" x2="41.80" y2="297.10" stroke="#000" stroke-width="1"/>
<line x1="52.69" y1="294.60" x2="52.69" y2="297.10" stroke="#000" stroke-width="1"/>
<line x1="63.58" y1="294.60" x2="63.58" y2="297.10" stroke="#000" stroke-width="1"/>
<line x1="74.47" y1="294.60" x2="74.47" y2="297.10" stroke="#000" stroke-width="1"/>
<line x1="85.36" y1="294.60" x2="85.36" y2="297.10" stroke="#000" stroke-width="1"/>
<line x1="96.24" y1="294.60" x2="96.24" y2="297.10" stroke="#000" stroke-width="1"/>
<line x1="107.13" y1="294.60" x2="107.13" y2="297.10" stroke="#000" stroke-width="1"/>
<line x1="118.02" y1="294.60" x2="118.02" y2="297.10" stroke="#000" stroke-width="1"/>
<line x1="128.91" y1="294.60" x2="128.91" y2="297.10" stroke="#000" stroke-width="1"/>
<line x1="139.80" y1="294.60" x2="139.80" y2="297.10" stroke="#000" stroke-width="1"/>
<line x1="150.69" y1="294.60" x2="150.69" y2="297.10" stroke="#000" stroke-width="1"/>
<line x1="161.58" y1="294.60" x2="161.58" y2="297.10" stroke="#000" stroke-width="1"/>
<line x1="172.47" y1="294.60" x2="172.47" y2="297.10" stroke="#000" stroke-width="1"/>
<line x1="183.36" y1="294.60" x2="183.36" y2="297.10" stroke="#000" stroke-width="1"/>
<line x1="194.24" y1="294.60" x2="194.24" y2="297.10" stroke="#000" stroke-width="1"/>
<line x1="205.13" y1="294.60" x2="205.13" y2="297.10" stroke="#000" stroke-width="1"/>
<line x1="216.02" y1="294.60" x2="216.02" y2="297.10" stroke="#000" stroke-width="1"/>
<line x1="226.91" y1="294.60" x2="226.91" y2="297.10" stroke="#000" stroke-width="1"/>
<line x1="237.80" y1="294.60" x2="237.80" y2="297.10" stroke="#000" stroke-width="1"/>
<text id="C_y0" x="38.66" y="186.20" font-size="8.30" font-weight="normal" text-anchor="end" textLength="25.95" lengthAdjust="spacingAndGlyphs" fill="#383838" stroke="#383838" stroke-width="0.0">1.E+08</text>
<text id="C_y1" x="38.66" y="208.62" font-size="8.30" font-weight="normal" text-anchor="end" textLength="25.95" lengthAdjust="spacingAndGlyphs" fill="#383838" stroke="#383838" stroke-width="0.0">1.E+07</text>
<text id="C_y2" x="38.66" y="231.04" font-size="8.30" font-weight="normal" text-anchor="end" textLength="25.95" lengthAdjust="spacingAndGlyphs" fill="#383838" stroke="#383838" stroke-width="0.0">1.E+06</text>
<text id="C_y3" x="38.66" y="253.46" font-size="8.30" font-weight="normal" text-anchor="end" textLength="25.95" lengthAdjust="spacingAndGlyphs" fill="#383838" stroke="#383838" stroke-width="0.0">1.E+05</text>
<text id="C_y4" x="38.66" y="275.88" font-size="8.30" font-weight="normal" text-anchor="end" textLength="25.95" lengthAdjust="spacingAndGlyphs" fill="#383838" stroke="#383838" stroke-width="0.0">1.E+04</text>
<text id="C_y5" x="38.66" y="298.30" font-size="8.30" font-weight="normal" text-anchor="end" textLength="25.95" lengthAdjust="spacingAndGlyphs" fill="#383838" stroke="#383838" stroke-width="0.0">1.E+03</text>
<text id="C_x0" x="47.31" y="304.00" font-size="7.30" font-weight="normal" text-anchor="middle" textLength="4.25" lengthAdjust="spacingAndGlyphs" fill="#383838" stroke="#383838" stroke-width="0.0">0</text>
<text id="C_x1" x="58.20" y="304.00" font-size="7.30" font-weight="normal" text-anchor="middle" textLength="4.25" lengthAdjust="spacingAndGlyphs" fill="#383838" stroke="#383838" stroke-width="0.0">2</text>
<text id="C_x2" x="69.09" y="304.00" font-size="7.30" font-weight="normal" text-anchor="middle" textLength="4.25" lengthAdjust="spacingAndGlyphs" fill="#383838" stroke="#383838" stroke-width="0.0">4</text>
<text id="C_x3" x="79.98" y="304.00" font-size="7.30" font-weight="normal" text-anchor="middle" textLength="4.25" lengthAdjust="spacingAndGlyphs" fill="#383838" stroke="#383838" stroke-width="0.0">6</text>
<text id="C_x4" x="90.87" y="304.00" font-size="7.30" font-weight="normal" text-anchor="middle" textLength="4.25" lengthAdjust="spacingAndGlyphs" fill="#383838" stroke="#383838" stroke-width="0.0">8</text>
<text id="C_x5" x="101.76" y="304.00" font-size="7.30" font-weight="normal" text-anchor="middle" textLength="8.50" lengthAdjust="spacingAndGlyphs" fill="#383838" stroke="#383838" stroke-width="0.0">10</text>
<text id="C_x6" x="112.64" y="304.00" font-size="7.30" font-weight="normal" text-anchor="middle" textLength="8.50" lengthAdjust="spacingAndGlyphs" fill="#383838" stroke="#383838" stroke-width="0.0">12</text>
<text id="C_x7" x="123.53" y="304.00" font-size="7.30" font-weight="normal" text-anchor="middle" textLength="8.50" lengthAdjust="spacingAndGlyphs" fill="#383838" stroke="#383838" stroke-width="0.0">16</text>
<text id="C_x8" x="134.42" y="304.00" font-size="7.30" font-weight="normal" text-anchor="middle" textLength="8.50" lengthAdjust="spacingAndGlyphs" fill="#383838" stroke="#383838" stroke-width="0.0">18</text>
<text id="C_x9" x="145.31" y="304.00" font-size="7.30" font-weight="normal" text-anchor="middle" textLength="8.50" lengthAdjust="spacingAndGlyphs" fill="#383838" stroke="#383838" stroke-width="0.0">20</text>
<text id="C_x10" x="156.20" y="304.00" font-size="7.30" font-weight="normal" text-anchor="middle" textLength="8.50" lengthAdjust="spacingAndGlyphs" fill="#383838" stroke="#383838" stroke-width="0.0">22</text>
<text id="C_x11" x="167.09" y="304.00" font-size="7.30" font-weight="normal" text-anchor="middle" textLength="8.50" lengthAdjust="spacingAndGlyphs" fill="#383838" stroke="#383838" stroke-width="0.0">24</text>
<text id="C_x12" x="177.98" y="304.00" font-size="7.30" font-weight="normal" text-anchor="middle" textLength="8.50" lengthAdjust="spacingAndGlyphs" fill="#383838" stroke="#383838" stroke-width="0.0">28</text>
<text id="C_x13" x="188.87" y="304.00" font-size="7.30" font-weight="normal" text-anchor="middle" textLength="8.50" lengthAdjust="spacingAndGlyphs" fill="#383838" stroke="#383838" stroke-width="0.0">34</text>
<text id="C_x14" x="199.76" y="304.00" font-size="7.30" font-weight="normal" text-anchor="middle" textLength="8.50" lengthAdjust="spacingAndGlyphs" fill="#383838" stroke="#383838" stroke-width="0.0">38</text>
<text id="C_x15" x="210.64" y="304.00" font-size="7.30" font-weight="normal" text-anchor="middle" textLength="8.50" lengthAdjust="spacingAndGlyphs" fill="#383838" stroke="#383838" stroke-width="0.0">42</text>
<text id="C_x16" x="221.53" y="304.00" font-size="7.30" font-weight="normal" text-anchor="middle" textLength="8.50" lengthAdjust="spacingAndGlyphs" fill="#383838" stroke="#383838" stroke-width="0.0">55</text>
<text id="C_x17" x="232.42" y="304.00" font-size="7.30" font-weight="normal" text-anchor="middle" textLength="8.50" lengthAdjust="spacingAndGlyphs" fill="#383838" stroke="#383838" stroke-width="0.0">60</text>
<rect x="309.00" y="230.30" width="3.00" height="64.50" fill="#333"/>
<rect x="310.00" y="231.30" width="1.00" height="64.50" fill="#fff"/>
<rect x="320.00" y="211.30" width="3.00" height="83.50" fill="#333"/>
<rect x="321.00" y="212.30" width="1.00" height="83.50" fill="#fff"/>
<rect x="332.00" y="245.40" width="3.00" height="49.40" fill="#333"/>
<rect x="333.00" y="246.40" width="1.00" height="49.40" fill="#fff"/>
<rect x="343.00" y="243.40" width="3.00" height="51.40" fill="#333"/>
<rect x="344.00" y="244.40" width="1.00" height="51.40" fill="#fff"/>
<rect x="354.00" y="239.00" width="3.00" height="55.80" fill="#333"/>
<rect x="355.00" y="240.00" width="1.00" height="55.80" fill="#fff"/>
<rect x="365.00" y="230.00" width="3.00" height="64.80" fill="#333"/>
<rect x="366.00" y="231.00" width="1.00" height="64.80" fill="#fff"/>
<rect x="388.00" y="287.20" width="3.00" height="7.60" fill="#333"/>
<rect x="389.00" y="288.20" width="1.00" height="7.60" fill="#fff"/>
<rect x="398.00" y="287.20" width="3.00" height="7.60" fill="#333"/>
<rect x="399.00" y="288.20" width="1.00" height="7.60" fill="#fff"/>
<rect x="467.00" y="278.90" width="3.00" height="15.90" fill="#333"/>
<rect x="468.00" y="279.90" width="1.00" height="15.90" fill="#fff"/>
<rect x="478.00" y="281.20" width="3.00" height="13.60" fill="#333"/>
<rect x="479.00" y="282.20" width="1.00" height="13.60" fill="#fff"/>
<rect x="490.00" y="287.50" width="3.00" height="7.30" fill="#333"/>
<rect x="491.00" y="288.50" width="1.00" height="7.30" fill="#fff"/>
<rect x="311.60" y="249.60" width="2.60" height="45.20" fill="#000"/>
<rect x="334.60" y="236.30" width="2.60" height="58.50" fill="#000"/>
<rect x="345.60" y="248.10" width="2.60" height="46.70" fill="#000"/>
<rect x="356.60" y="241.90" width="2.60" height="52.90" fill="#000"/>
<rect x="367.60" y="248.80" width="2.60" height="46.00" fill="#000"/>
<rect x="390.60" y="287.20" width="2.60" height="7.60" fill="#000"/>
<rect x="400.60" y="287.20" width="2.60" height="7.60" fill="#000"/>
<rect x="411.30" y="281.00" width="2.60" height="13.80" fill="#000"/>
<rect x="422.30" y="274.00" width="2.60" height="20.80" fill="#000"/>
<rect x="322.60" y="228.00" width="2.60" height="66.80" fill="#000"/>
<rect x="314.00" y="237.80" width="3.70" height="57.00" fill="#111"/>
<rect x="314.80" y="238.70" width="2.00" height="57.00" fill="url(#hatch)"/>
<rect x="314.00" y="238.70" width="0.8" height="57.00" fill="#808080"/>
<rect x="325.00" y="227.00" width="3.70" height="67.80" fill="#111"/>
<rect x="325.80" y="227.90" width="2.00" height="67.80" fill="url(#hatch)"/>
<rect x="325.00" y="227.90" width="0.8" height="67.80" fill="#808080"/>
<rect x="337.00" y="223.80" width="3.70" height="71.00" fill="#111"/>
<rect x="337.80" y="224.70" width="2.00" height="71.00" fill="url(#hatch)"/>
<rect x="337.00" y="224.70" width="0.8" height="71.00" fill="#808080"/>
<rect x="348.00" y="232.30" width="3.70" height="62.50" fill="#111"/>
<rect x="348.80" y="233.20" width="2.00" height="62.50" fill="url(#hatch)"/>
<rect x="348.00" y="233.20" width="0.8" height="62.50" fill="#808080"/>
<rect x="359.00" y="242.30" width="3.70" height="52.50" fill="#111"/>
<rect x="359.80" y="243.20" width="2.00" height="52.50" fill="url(#hatch)"/>
<rect x="359.00" y="243.20" width="0.8" height="52.50" fill="#808080"/>
<rect x="370.00" y="243.50" width="3.70" height="51.30" fill="#111"/>
<rect x="370.80" y="244.40" width="2.00" height="51.30" fill="url(#hatch)"/>
<rect x="370.00" y="244.40" width="0.8" height="51.30" fill="#808080"/>
<rect x="393.00" y="287.20" width="3.70" height="7.60" fill="#111"/>
<rect x="393.80" y="288.10" width="2.00" height="7.60" fill="url(#hatch)"/>
<rect x="393.00" y="288.10" width="0.8" height="7.60" fill="#808080"/>
<rect x="472.00" y="270.30" width="3.70" height="24.50" fill="#111"/>
<rect x="472.80" y="271.20" width="2.00" height="24.50" fill="url(#hatch)"/>
<rect x="472.00" y="271.20" width="0.8" height="24.50" fill="#808080"/>
<rect x="483.00" y="270.90" width="3.70" height="23.90" fill="#111"/>
<rect x="483.80" y="271.80" width="2.00" height="23.90" fill="url(#hatch)"/>
<rect x="483.00" y="271.80" width="0.8" height="23.90" fill="#808080"/>
<rect x="495.00" y="281.20" width="3.70" height="13.60" fill="#111"/>
<rect x="495.80" y="282.10" width="2.00" height="13.60" fill="url(#hatch)"/>
<rect x="495.00" y="282.10" width="0.8" height="13.60" fill="#808080"/>
<path d="M296.60 182.70 H500.80 V294.80" fill="none" stroke="#444" stroke-width="1"/>
<path d="M296.60 182.20 V294.80 H501.30" fill="none" stroke="#000" stroke-width="1.8"/>
<line x1="294.10" y1="182.90" x2="296.60" y2="182.90" stroke="#000" stroke-width="1"/>
<line x1="294.10" y1="205.28" x2="296.60" y2="205.28" stroke="#000" stroke-width="1"/>
<line x1="294.10" y1="227.66" x2="296.60" y2="227.66" stroke="#000" stroke-width="1"/>
<line x1="294.10" y1="250.04" x2="296.60" y2="250.04" stroke="#000" stroke-width="1"/>
<line x1="294.10" y1="272.42" x2="296.60" y2="272.42" stroke="#000" stroke-width="1"/>
<line x1="294.10" y1="294.80" x2="296.60" y2="294.80" stroke="#000" stroke-width="1"/>
<line x1="296.20" y1="294.80" x2="296.20" y2="297.30" stroke="#000" stroke-width="1"/>
<line x1="307.57" y1="294.80" x2="307.57" y2="297.30" stroke="#000" stroke-width="1"/>
<line x1="318.93" y1="294.80" x2="318.93" y2="297.30" stroke="#000" stroke-width="1"/>
<line x1="330.30" y1="294.80" x2="330.30" y2="297.30" stroke="#000" stroke-width="1"/>
<line x1="341.67" y1="294.80" x2="341.67" y2="297.30" stroke="#000" stroke-width="1"/>
<line x1="353.03" y1="294.80" x2="353.03" y2="297.30" stroke="#000" stroke-width="1"/>
<line x1="364.40" y1="294.80" x2="364.40" y2="297.30" stroke="#000" stroke-width="1"/>
<line x1="375.77" y1="294.80" x2="375.77" y2="297.30" stroke="#000" stroke-width="1"/>
<line x1="387.13" y1="294.80" x2="387.13" y2="297.30" stroke="#000" stroke-width="1"/>
<line x1="398.50" y1="294.80" x2="398.50" y2="297.30" stroke="#000" stroke-width="1"/>
<line x1="409.87" y1="294.80" x2="409.87" y2="297.30" stroke="#000" stroke-width="1"/>
<line x1="421.23" y1="294.80" x2="421.23" y2="297.30" stroke="#000" stroke-width="1"/>
<line x1="432.60" y1="294.80" x2="432.60" y2="297.30" stroke="#000" stroke-width="1"/>
<line x1="443.97" y1="294.80" x2="443.97" y2="297.30" stroke="#000" stroke-width="1"/>
<line x1="455.33" y1="294.80" x2="455.33" y2="297.30" stroke="#000" stroke-width="1"/>
<line x1="466.70" y1="294.80" x2="466.70" y2="297.30" stroke="#000" stroke-width="1"/>
<line x1="478.07" y1="294.80" x2="478.07" y2="297.30" stroke="#000" stroke-width="1"/>
<line x1="489.43" y1="294.80" x2="489.43" y2="297.30" stroke="#000" stroke-width="1"/>
<line x1="500.80" y1="294.80" x2="500.80" y2="297.30" stroke="#000" stroke-width="1"/>
<text id="D_y0" x="292.84" y="186.29" font-size="8.30" font-weight="normal" text-anchor="end" textLength="29.15" lengthAdjust="spacingAndGlyphs" fill="#383838" stroke="#383838" stroke-width="0.0">1.E+08</text>
<text id="D_y1" x="292.84" y="208.67" font-size="8.30" font-weight="normal" text-anchor="end" textLength="29.15" lengthAdjust="spacingAndGlyphs" fill="#383838" stroke="#383838" stroke-width="0.0">1.E+07</text>
<text id="D_y2" x="292.84" y="231.05" font-size="8.30" font-weight="normal" text-anchor="end" textLength="29.15" lengthAdjust="spacingAndGlyphs" fill="#383838" stroke="#383838" stroke-width="0.0">1.E+06</text>
<text id="D_y3" x="292.84" y="253.43" font-size="8.30" font-weight="normal" text-anchor="end" textLength="29.15" lengthAdjust="spacingAndGlyphs" fill="#383838" stroke="#383838" stroke-width="0.0">1.E+05</text>
<text id="D_y4" x="292.84" y="275.81" font-size="8.30" font-weight="normal" text-anchor="end" textLength="29.15" lengthAdjust="spacingAndGlyphs" fill="#383838" stroke="#383838" stroke-width="0.0">1.E+04</text>
<text id="D_y5" x="292.84" y="298.19" font-size="8.30" font-weight="normal" text-anchor="end" textLength="29.15" lengthAdjust="spacingAndGlyphs" fill="#383838" stroke="#383838" stroke-width="0.0">1.E+03</text>
<text id="D_x0" x="301.72" y="304.99" font-size="7.30" font-weight="normal" text-anchor="middle" textLength="4.00" lengthAdjust="spacingAndGlyphs" fill="#383838" stroke="#383838" stroke-width="0.0">0</text>
<text id="D_x1" x="313.09" y="304.99" font-size="7.30" font-weight="normal" text-anchor="middle" textLength="4.00" lengthAdjust="spacingAndGlyphs" fill="#383838" stroke="#383838" stroke-width="0.0">2</text>
<text id="D_x2" x="324.45" y="304.99" font-size="7.30" font-weight="normal" text-anchor="middle" textLength="4.00" lengthAdjust="spacingAndGlyphs" fill="#383838" stroke="#383838" stroke-width="0.0">4</text>
<text id="D_x3" x="335.82" y="304.99" font-size="7.30" font-weight="normal" text-anchor="middle" textLength="4.00" lengthAdjust="spacingAndGlyphs" fill="#383838" stroke="#383838" stroke-width="0.0">6</text>
<text id="D_x4" x="347.19" y="304.99" font-size="7.30" font-weight="normal" text-anchor="middle" textLength="4.00" lengthAdjust="spacingAndGlyphs" fill="#383838" stroke="#383838" stroke-width="0.0">8</text>
<text id="D_x5" x="358.55" y="304.99" font-size="7.30" font-weight="normal" text-anchor="middle" textLength="8.00" lengthAdjust="spacingAndGlyphs" fill="#383838" stroke="#383838" stroke-width="0.0">10</text>
<text id="D_x6" x="369.92" y="304.99" font-size="7.30" font-weight="normal" text-anchor="middle" textLength="8.00" lengthAdjust="spacingAndGlyphs" fill="#383838" stroke="#383838" stroke-width="0.0">12</text>
<text id="D_x7" x="381.29" y="304.99" font-size="7.30" font-weight="normal" text-anchor="middle" textLength="8.00" lengthAdjust="spacingAndGlyphs" fill="#383838" stroke="#383838" stroke-width="0.0">16</text>
<text id="D_x8" x="392.65" y="304.99" font-size="7.30" font-weight="normal" text-anchor="middle" textLength="8.00" lengthAdjust="spacingAndGlyphs" fill="#383838" stroke="#383838" stroke-width="0.0">18</text>
<text id="D_x9" x="404.02" y="304.99" font-size="7.30" font-weight="normal" text-anchor="middle" textLength="8.00" lengthAdjust="spacingAndGlyphs" fill="#383838" stroke="#383838" stroke-width="0.0">20</text>
<text id="D_x10" x="415.39" y="304.99" font-size="7.30" font-weight="normal" text-anchor="middle" textLength="8.00" lengthAdjust="spacingAndGlyphs" fill="#383838" stroke="#383838" stroke-width="0.0">22</text>
<text id="D_x11" x="426.75" y="304.99" font-size="7.30" font-weight="normal" text-anchor="middle" textLength="8.00" lengthAdjust="spacingAndGlyphs" fill="#383838" stroke="#383838" stroke-width="0.0">24</text>
<text id="D_x12" x="438.12" y="304.99" font-size="7.30" font-weight="normal" text-anchor="middle" textLength="8.00" lengthAdjust="spacingAndGlyphs" fill="#383838" stroke="#383838" stroke-width="0.0">28</text>
<text id="D_x13" x="449.49" y="304.99" font-size="7.30" font-weight="normal" text-anchor="middle" textLength="8.00" lengthAdjust="spacingAndGlyphs" fill="#383838" stroke="#383838" stroke-width="0.0">34</text>
<text id="D_x14" x="460.85" y="304.99" font-size="7.30" font-weight="normal" text-anchor="middle" textLength="8.00" lengthAdjust="spacingAndGlyphs" fill="#383838" stroke="#383838" stroke-width="0.0">38</text>
<text id="D_x15" x="472.22" y="304.99" font-size="7.30" font-weight="normal" text-anchor="middle" textLength="8.00" lengthAdjust="spacingAndGlyphs" fill="#383838" stroke="#383838" stroke-width="0.0">42</text>
<text id="D_x16" x="483.59" y="304.99" font-size="7.30" font-weight="normal" text-anchor="middle" textLength="8.00" lengthAdjust="spacingAndGlyphs" fill="#383838" stroke="#383838" stroke-width="0.0">55</text>
<text id="D_x17" x="494.95" y="304.99" font-size="7.30" font-weight="normal" text-anchor="middle" textLength="8.00" lengthAdjust="spacingAndGlyphs" fill="#383838" stroke="#383838" stroke-width="0.0">60</text>
<rect x="124.00" y="27.40" width="5.80" height="5.80" fill="#333"/>
<rect x="125.00" y="28.40" width="3.80" height="3.80" fill="#fff"/>
<rect x="124.00" y="39.80" width="5.80" height="5.80" fill="#000"/>
<rect x="377.40" y="27.00" width="5.20" height="5.20" fill="#333"/>
<rect x="378.40" y="28.00" width="3.20" height="3.20" fill="#fff"/>
<rect x="377.40" y="38.00" width="5.20" height="5.20" fill="#000"/>
<rect x="377.40" y="48.30" width="5.20" height="5.20" fill="#111"/>
<rect x="378.30" y="49.20" width="3.40" height="3.40" fill="url(#hatch)"/>
<rect x="130.60" y="192.00" width="5.00" height="5.00" fill="#333"/>
<rect x="131.60" y="193.00" width="3.00" height="3.00" fill="#fff"/>
<rect x="130.60" y="203.70" width="5.00" height="5.00" fill="#000"/>
<rect x="130.60" y="215.40" width="5.00" height="5.00" fill="#111"/>
<rect x="131.50" y="216.30" width="3.20" height="3.20" fill="url(#hatch)"/>
<rect x="384.20" y="193.10" width="5.80" height="5.80" fill="#333"/>
<rect x="385.20" y="194.10" width="3.80" height="3.80" fill="#fff"/>
<rect x="384.20" y="205.80" width="5.80" height="5.80" fill="#000"/>
<rect x="384.20" y="217.10" width="5.80" height="5.80" fill="#111"/>
<rect x="385.10" y="218.00" width="4.00" height="4.00" fill="url(#hatch)"/>
<text id="LA" x="0.58" y="13.50" font-size="17.56" font-weight="bold" text-anchor="start" fill="#000" stroke="#000" stroke-width="0.15">A</text>
<text id="LB" x="252.40" y="12.92" font-size="17.52" font-weight="bold" text-anchor="start" fill="#000" stroke="#000" stroke-width="0.15">B</text>
<text id="LC" x="-0.02" y="170.38" font-size="17.31" font-weight="bold" text-anchor="start" fill="#000" stroke="#000" stroke-width="0.15">C</text>
<text id="LD" x="252.20" y="174.49" font-size="17.57" font-weight="bold" text-anchor="start" fill="#000" stroke="#000" stroke-width="0.15">D</text>
<text id="g1" x="122.88" y="13.74" font-size="10.54" font-weight="bold" text-anchor="start" textLength="37.21" lengthAdjust="spacingAndGlyphs" fill="#111" stroke="#111" stroke-width="0.15">group 1</text>
<text id="g2" x="377.31" y="14.63" font-size="10.01" font-weight="bold" text-anchor="start" textLength="38.97" lengthAdjust="spacingAndGlyphs" fill="#111" stroke="#111" stroke-width="0.15">group 2</text>
<text id="g3" x="130.34" y="178.97" font-size="9.09" font-weight="bold" text-anchor="start" textLength="38.09" lengthAdjust="spacingAndGlyphs" fill="#111" stroke="#111" stroke-width="0.15">group 3</text>
<text id="g4" x="382.94" y="178.94" font-size="10.02" font-weight="bold" text-anchor="start" textLength="37.57" lengthAdjust="spacingAndGlyphs" fill="#111" stroke="#111" stroke-width="0.15">group 4</text>
<text id="l1a" x="131.87" y="32.83" font-size="8.80" font-weight="normal" text-anchor="start" textLength="25.90" lengthAdjust="spacingAndGlyphs" fill="#383838" stroke="#383838" stroke-width="0.0">RM1a</text>
<text id="l1b" x="131.85" y="45.43" font-size="8.80" font-weight="normal" text-anchor="start" textLength="26.09" lengthAdjust="spacingAndGlyphs" fill="#383838" stroke="#383838" stroke-width="0.0">RM1b</text>
<text id="l2a" x="384.85" y="32.32" font-size="8.50" font-weight="normal" text-anchor="start" textLength="25.39" lengthAdjust="spacingAndGlyphs" fill="#383838" stroke="#383838" stroke-width="0.0">RM2a</text>
<text id="l2b" x="384.83" y="43.94" font-size="8.50" font-weight="normal" text-anchor="start" textLength="25.71" lengthAdjust="spacingAndGlyphs" fill="#383838" stroke="#383838" stroke-width="0.0">RM2b</text>
<text id="l2c" x="384.78" y="54.44" font-size="8.50" font-weight="normal" text-anchor="start" textLength="26.10" lengthAdjust="spacingAndGlyphs" fill="#383838" stroke="#383838" stroke-width="0.0">RM2c</text>
<text id="l3a" x="137.82" y="196.33" font-size="7.70" font-weight="normal" text-anchor="start" textLength="22.99" lengthAdjust="spacingAndGlyphs" fill="#383838" stroke="#383838" stroke-width="0.0">RM3a</text>
<text id="l3b" x="137.81" y="208.54" font-size="7.70" font-weight="normal" text-anchor="start" textLength="22.95" lengthAdjust="spacingAndGlyphs" fill="#383838" stroke="#383838" stroke-width="0.0">RM3b</text>
<text id="l3c" x="137.76" y="220.13" font-size="7.70" font-weight="normal" text-anchor="start" textLength="23.16" lengthAdjust="spacingAndGlyphs" fill="#383838" stroke="#383838" stroke-width="0.0">RM3c</text>
<text id="l4a" x="392.34" y="198.83" font-size="8.60" font-weight="normal" text-anchor="start" textLength="25.97" lengthAdjust="spacingAndGlyphs" fill="#383838" stroke="#383838" stroke-width="0.0">RM4a</text>
<text id="l4b" x="392.33" y="211.68" font-size="8.60" font-weight="normal" text-anchor="start" textLength="26.15" lengthAdjust="spacingAndGlyphs" fill="#383838" stroke="#383838" stroke-width="0.0">RM4b</text>
<text id="l4c" x="392.37" y="222.62" font-size="8.60" font-weight="normal" text-anchor="start" textLength="26.54" lengthAdjust="spacingAndGlyphs" fill="#383838" stroke="#383838" stroke-width="0.0">RM4c</text>
<text id="vA" transform="translate(7.75,140.64) rotate(-90)" x="0" y="0" font-size="10.62" font-weight="bold" text-anchor="start" textLength="124.29" lengthAdjust="spacingAndGlyphs" fill="#111" stroke="#111" stroke-width="0.15">vRNA copies/mL plasma</text>
<text id="vB" transform="translate(261.77,140.45) rotate(-90)" x="0" y="0" font-size="10.38" font-weight="bold" text-anchor="start" textLength="121.76" lengthAdjust="spacingAndGlyphs" fill="#111" stroke="#111" stroke-width="0.15">vRNA copies/mL plasma</text>
<text id="vC" transform="translate(9.96,298.70) rotate(-90)" x="0" y="0" font-size="10.62" font-weight="bold" text-anchor="start" textLength="121.26" lengthAdjust="spacingAndGlyphs" fill="#111" stroke="#111" stroke-width="0.15">vRNA copies/mL plasma</text>
<text id="vD" transform="translate(260.90,302.54) rotate(-90)" x="0" y="0" font-size="10.38" font-weight="bold" text-anchor="start" textLength="123.36" lengthAdjust="spacingAndGlyphs" fill="#111" stroke="#111" stroke-width="0.15">vRNA copies/mL plasma</text>
<text id="wA" x="206.94" y="156.43" font-size="10.70" font-weight="bold" text-anchor="start" textLength="41.92" lengthAdjust="spacingAndGlyphs" fill="#111" stroke="#111" stroke-width="0.15">week pi</text>
<text id="wB" x="476.29" y="158.64" font-size="10.70" font-weight="bold" text-anchor="start" textLength="42.05" lengthAdjust="spacingAndGlyphs" fill="#111" stroke="#111" stroke-width="0.15">week pi</text>
<text id="wC" x="208.25" y="317.17" font-size="10.70" font-weight="bold" text-anchor="start" textLength="42.75" lengthAdjust="spacingAndGlyphs" fill="#111" stroke="#111" stroke-width="0.15">week pi</text>
<text id="wD" x="478.28" y="319.44" font-size="10.70" font-weight="bold" text-anchor="start" textLength="42.94" lengthAdjust="spacingAndGlyphs" fill="#111" stroke="#111" stroke-width="0.15">week pi</text>
<text id="aA1" x="205.70" y="33.73" font-size="8.40" font-weight="normal" text-anchor="start" textLength="25.11" lengthAdjust="spacingAndGlyphs" fill="#383838" stroke="#383838" stroke-width="0.0">RM1b</text>
<text id="aA2" x="207.05" y="44.62" font-size="8.40" font-weight="normal" text-anchor="start" textLength="22.15" lengthAdjust="spacingAndGlyphs" fill="#383838" stroke="#383838" stroke-width="0.0">dead</text>
<text id="aB1" x="469.99" y="27.06" font-size="8.20" font-weight="bold" text-anchor="start" textLength="24.61" lengthAdjust="spacingAndGlyphs" fill="#111" stroke="#111" stroke-width="0.15">RM2a</text>
<text id="aB2" x="470.02" y="38.40" font-size="8.20" font-weight="bold" text-anchor="start" textLength="24.72" lengthAdjust="spacingAndGlyphs" fill="#111" stroke="#111" stroke-width="0.15">RM2c</text>
<text id="aB3" x="472.32" y="49.34" font-size="8.20" font-weight="bold" text-anchor="start" textLength="21.04" lengthAdjust="spacingAndGlyphs" fill="#111" stroke="#111" stroke-width="0.15">dead</text>
<text id="pB" x="362.42" y="158.57" font-size="9.80" font-weight="bold" text-anchor="start" textLength="30.47" lengthAdjust="spacingAndGlyphs" fill="#111" stroke="#111" stroke-width="0.15">PMPA</text>
<text id="pC" x="90.10" y="321.43" font-size="9.80" font-weight="bold" text-anchor="start" textLength="29.70" lengthAdjust="spacingAndGlyphs" fill="#111" stroke="#111" stroke-width="0.15">PMPA</text>
<text id="tC" x="123.48" y="328.09" font-size="9.90" font-weight="bold" text-anchor="start" textLength="62.25" lengthAdjust="spacingAndGlyphs" fill="#111" stroke="#111" stroke-width="0.15">transfusions</text>
<text id="pD" x="347.83" y="322.67" font-size="9.80" font-weight="bold" text-anchor="start" textLength="29.54" lengthAdjust="spacingAndGlyphs" fill="#111" stroke="#111" stroke-width="0.15">PMPA</text>
<text id="tD" x="381.89" y="329.32" font-size="9.90" font-weight="bold" text-anchor="start" textLength="62.25" lengthAdjust="spacingAndGlyphs" fill="#111" stroke="#111" stroke-width="0.15">transfusions</text>
<line x1="217.70" y1="46.80" x2="217.70" y2="57.00" stroke="#000" stroke-width="1"/>
<path d="M215.2 55.2 L220.2 55.2 L217.7 61 Z" fill="#000"/>
<line x1="494.30" y1="48.00" x2="496.80" y2="58.50" stroke="#000" stroke-width="1"/>
<path d="M494.9 57.0 L499.6 56.4 L497.7 63.8 Z" fill="#000"/>
<circle cx="367.70" cy="146.50" r="2.5" fill="#000"/>
<circle cx="378.80" cy="146.50" r="2.5" fill="#000"/>
<line x1="367.70" y1="146.50" x2="378.80" y2="146.50" stroke="#000" stroke-width="1"/>
<circle cx="116.90" cy="307.50" r="2.5" fill="#000"/>
<circle cx="128.10" cy="307.40" r="2.5" fill="#000"/>
<line x1="116.90" y1="307.50" x2="128.10" y2="307.40" stroke="#000" stroke-width="1"/>
<circle cx="125.80" cy="312.30" r="2.5" fill="#000"/>
<circle cx="145.40" cy="312.30" r="2.5" fill="#000"/>
<line x1="125.80" y1="312.30" x2="145.40" y2="312.30" stroke="#000" stroke-width="1"/>
<circle cx="374.60" cy="309.30" r="2.5" fill="#000"/>
<circle cx="385.70" cy="308.90" r="2.5" fill="#000"/>
<line x1="374.60" y1="309.30" x2="385.70" y2="308.90" stroke="#000" stroke-width="1"/>
<circle cx="383.80" cy="314.00" r="2.5" fill="#000"/>
<circle cx="403.10" cy="314.00" r="2.5" fill="#000"/>
<line x1="383.80" y1="314.00" x2="403.10" y2="314.00" stroke="#000" stroke-width="1"/>
</g>
</svg>
</body></html>
